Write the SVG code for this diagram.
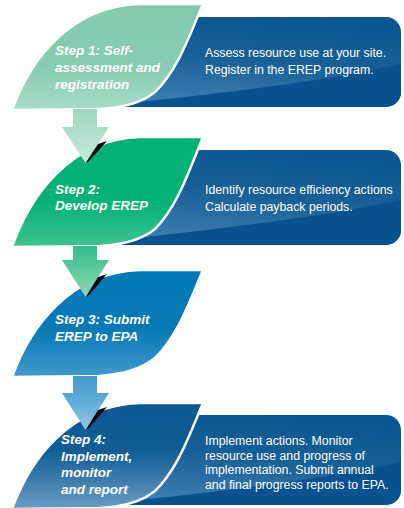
<svg xmlns="http://www.w3.org/2000/svg" width="404" height="508" viewBox="0 0 404 508">
<defs>
<style>
.lt{font-family:"Liberation Sans",Arial,sans-serif;font-weight:bold;font-style:italic;font-size:13.5px;fill:#fff}
.pt{font-family:"Liberation Sans",Arial,sans-serif;font-size:12.3px;fill:#fff}
.leaf{stroke:#fff;stroke-width:2.5;stroke-linejoin:round}
.sw{fill:#0a5190}
.sl{fill:#000}
</style>
<linearGradient id="pg" x1="0.6" y1="0" x2="0.3" y2="1">
<stop offset="0" stop-color="#0b5691"/><stop offset="0.45" stop-color="#175f98"/><stop offset="1" stop-color="#3d7fb2"/>
</linearGradient>
<linearGradient id="g1" x1="0" y1="0" x2="0" y2="1"><stop offset="0" stop-color="#82caae"/><stop offset="0.6" stop-color="#87ccb1"/><stop offset="1" stop-color="#aadcc6"/></linearGradient>
<linearGradient id="g2" x1="0" y1="0" x2="0" y2="1"><stop offset="0" stop-color="#00b074"/><stop offset="0.6" stop-color="#05b277"/><stop offset="1" stop-color="#40c393"/></linearGradient>
<linearGradient id="g3" x1="0" y1="0" x2="0" y2="1"><stop offset="0" stop-color="#0477b5"/><stop offset="0.55" stop-color="#0679b6"/><stop offset="1" stop-color="#4299cb"/></linearGradient>
<linearGradient id="g4" x1="0" y1="0" x2="0" y2="1"><stop offset="0" stop-color="#0b5892"/><stop offset="0.45" stop-color="#105d96"/><stop offset="1" stop-color="#6a9cc4"/></linearGradient>
<linearGradient id="a1" x1="0" y1="0" x2="0" y2="1"><stop offset="0" stop-color="#9fd7bf"/><stop offset="1" stop-color="#c6e9d9"/></linearGradient>
<linearGradient id="a2" x1="0" y1="0" x2="0" y2="1"><stop offset="0" stop-color="#34bc89"/><stop offset="0.4" stop-color="#55c899"/><stop offset="1" stop-color="#8fd8b9"/></linearGradient>
<linearGradient id="a3" x1="0" y1="0" x2="0" y2="1"><stop offset="0" stop-color="#4399cd"/><stop offset="0.4" stop-color="#5aaad7"/><stop offset="1" stop-color="#90c6e4"/></linearGradient>
<clipPath id="c1"><rect x="110" y="17" width="291" height="90" rx="15"/></clipPath>
<clipPath id="c2"><rect x="110" y="150" width="291" height="95" rx="15"/></clipPath>
<clipPath id="c4"><rect x="110" y="415" width="291" height="90" rx="15"/></clipPath>
</defs>

<g id="step1">
<g clip-path="url(#c1)">
<rect x="110" y="17" width="291" height="90" fill="url(#pg)"/>
<path class="sw" d="M100,106 C200,96 320,83 410,62 L410,110 L100,110 Z"/>
</g>
<path class="leaf" fill="url(#g1)" d="M12,110 C30,60 70,6 140,4 L203,4 C190,34 178,70 155,92 C140,104 122,108 100,109 Z"/>
<text class="lt" x="55" y="55">Step 1: Self-</text>
<text class="lt" x="55" y="72">assessment and</text>
<text class="lt" x="55" y="89">registration</text>
<text class="pt" x="205" y="57">Assess resource use at your site.</text>
<text class="pt" x="205" y="74">Register in the EREP program.</text>
</g>

<g id="step2">
<g clip-path="url(#c2)">
<rect x="110" y="150" width="291" height="95" fill="url(#pg)"/>
<path class="sw" d="M100,242 C200,231 320,218 410,198 L410,250 L100,250 Z"/>
</g>
<path class="leaf" fill="url(#g2)" d="M12,247 C30,196 70,139 140,137 L203,137 C190,168 178,206 155,229 C140,241 122,245 100,246 Z"/>
<text class="lt" x="55" y="194">Step 2:</text>
<text class="lt" x="55" y="210">Develop EREP</text>
<text class="pt" x="205" y="194">Identify resource efficiency actions</text>
<text class="pt" x="205" y="211">Calculate payback periods.</text>
</g>

<g id="step3">
<path class="leaf" fill="url(#g3)" d="M12,377 C30,327 70,272 140,270 L203,270 C190,300 178,336 155,358 C140,370 122,374 100,376 Z"/>
<text class="lt" x="55" y="324">Step 3: Submit</text>
<text class="lt" x="55" y="341">EREP to EPA</text>
</g>

<g id="step4">
<g clip-path="url(#c4)">
<rect x="110" y="415" width="291" height="90" fill="url(#pg)"/>
<path class="sw" d="M100,504 C200,494 320,481 410,460 L410,510 L100,510 Z"/>
</g>
<path class="leaf" fill="url(#g4)" d="M12,509 C30,459 70,405 140,403 L203,403 C190,433 178,469 155,491 C140,503 122,507 100,508 Z"/>
<text class="lt" x="61" y="444">Step 4:</text>
<text class="lt" x="61" y="461">Implement,</text>
<text class="lt" x="61" y="477">monitor</text>
<text class="lt" x="61" y="494">and report</text>
<text class="pt" x="205" y="445">Implement actions. Monitor</text>
<text class="pt" x="205" y="459.5">resource use and progress of</text>
<text class="pt" x="205" y="474">implementation. Submit annual</text>
<text class="pt" x="205" y="488.5">and final progress reports to EPA.</text>
</g>

<g id="connectors">
<path fill="url(#a1)" d="M73,109 L97,109 L97,127 L109,127 L85.5,163 L62,127 L73,127 Z"/>
<polygon class="sl" points="86,163 98,144 107,141 89,161"/>
<path fill="url(#a2)" d="M73,246 L97,246 L97,260 L109,260 L85.5,297 L62,260 L73,260 Z"/>
<polygon class="sl" points="86,297 98,277 107,274 89,295"/>
<path fill="url(#a3)" d="M73,376 L97,376 L97,393 L109,393 L85.5,430 L62,393 L73,393 Z"/>
<polygon class="sl" points="86,430 98,410 107,407 89,428"/>
</g>
</svg>
